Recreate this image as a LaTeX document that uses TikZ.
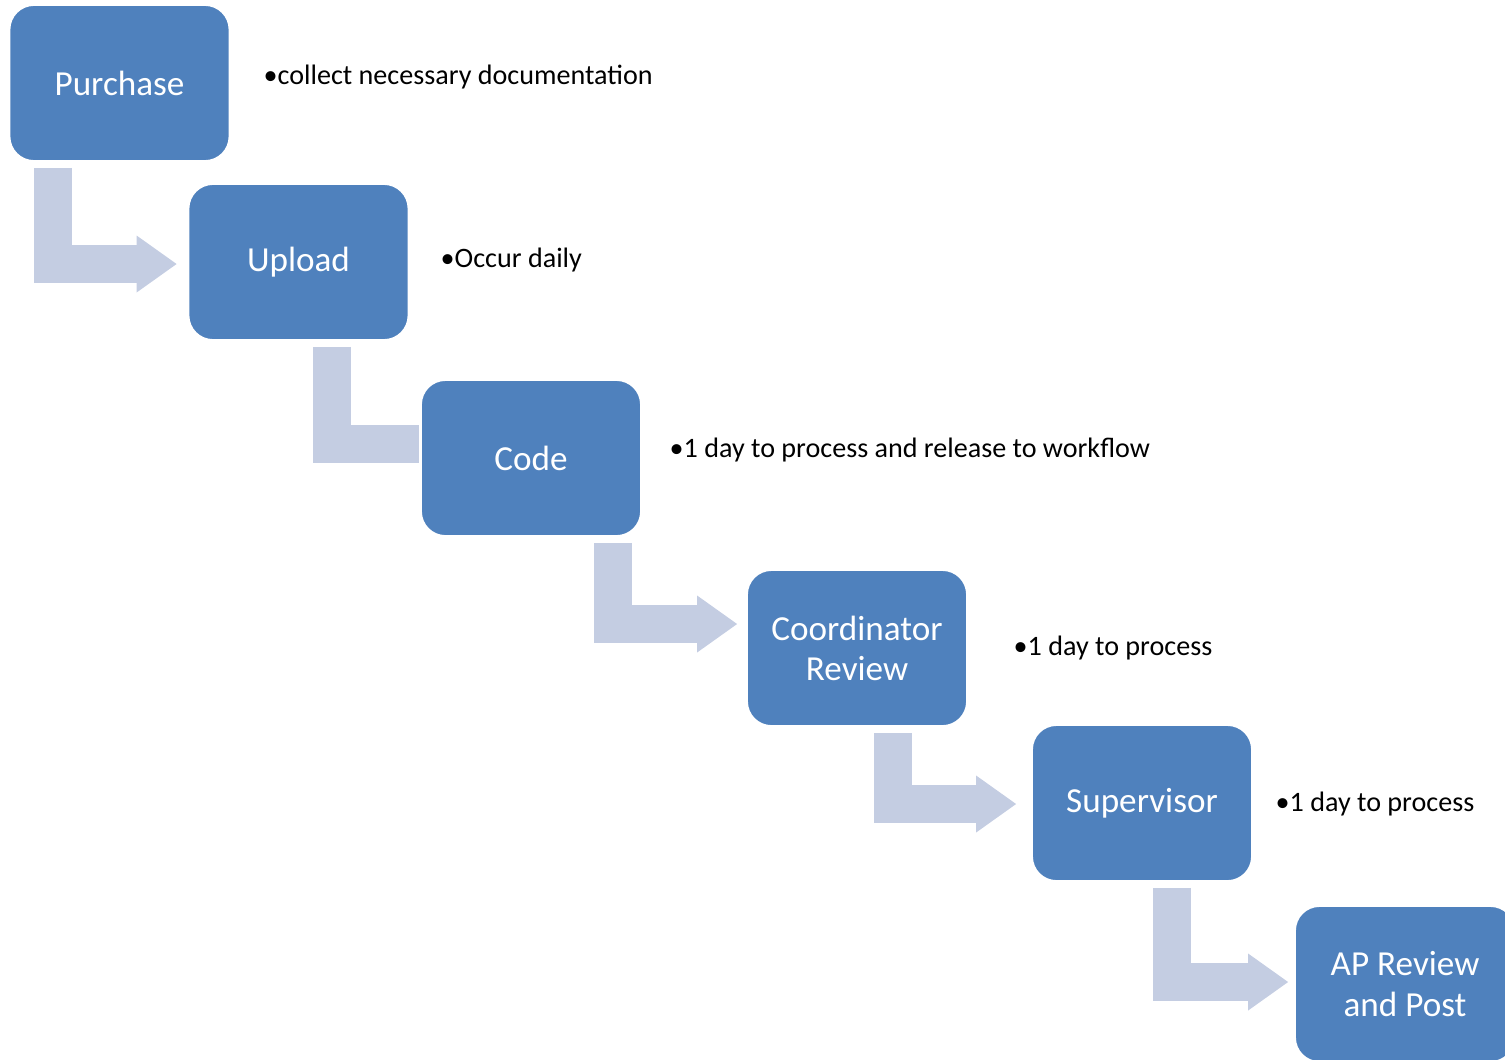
\documentclass[tikz,border=0pt]{standalone}
\usepackage{fontspec}
\setmainfont{Carlito}
\usetikzlibrary{arrows.meta,positioning,backgrounds}

\definecolor{boxblue}{RGB}{79,129,189}
\definecolor{flowgray}{RGB}{196,205,226}

\begin{document}
\begin{tikzpicture}[
  stage/.style={rectangle, rounded corners=0.25cm, fill=boxblue, draw=white,
    line width=0.8pt, text=white, minimum width=2.21cm, minimum height=1.57cm,
    align=center, font=\fontsize{10}{11.4}\selectfont},
  note/.style={anchor=west, inner sep=0pt, font=\fontsize{8}{9.6}\selectfont},
  flow/.style={draw=flowgray, line width=0.38cm, line join=miter,
    -{Triangle[width=0.57cm,length=0.40cm,line width=0pt]}}
]
\useasboundingbox (0,0) rectangle (15.05,-10.59);

% process stages
\node[stage] (purchase) at (1.195,-0.83)  {Purchase};
\node[stage] (upload)   at (2.985,-2.62)  {Upload};
\node[stage] (code)     at (5.31,-4.58)   {Code};
\node[stage] (coord)    at (8.57,-6.48)   {Coordinator\\Review};
\node[stage] (super)    at (11.42,-8.03)  {Supervisor};
\node[stage] (ap)       at (14.05,-9.84)  {AP Review\\and Post};

% notes
\node[note] (n1) at (2.63,-0.77)  {•collect necessary documentation};
\node[note] (n2) at (4.40,-2.60)  {•Occur daily};
\node[note] (n3) at (6.69,-4.50)  {•1 day to process and release to workflow};
\node[note] (n4) at (10.13,-6.48) {•1 day to process};
\node[note] (n5) at (12.75,-8.04) {•1 day to process};

% bent arrows
\begin{scope}[on background layer]
\draw[flow] ([xshift=0.45cm,yshift=-0.05cm]purchase.south west)
  |- ([xshift=-0.10cm,yshift=-0.02cm]upload.west);
\draw[flow] ([xshift=1.455cm,yshift=-0.05cm]upload.south west)
  |- ([xshift=0.48cm,yshift=0.145cm]code.west);
\draw[flow] ([xshift=1.94cm,yshift=-0.05cm]code.south west)
  |- ([xshift=-0.08cm,yshift=0.24cm]coord.west);
\draw[flow] ([xshift=1.48cm,yshift=-0.05cm]coord.south west)
  |- ([xshift=-0.14cm,yshift=-0.01cm]super.west);
\draw[flow] ([xshift=1.42cm,yshift=-0.05cm]super.south west)
  |- ([xshift=-0.05cm,yshift=0.02cm]ap.west);
\end{scope}
\end{tikzpicture}
\end{document}
